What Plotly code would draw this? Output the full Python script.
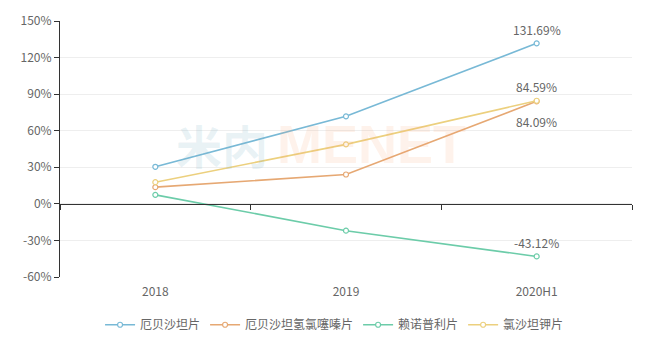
import plotly.graph_objects as go

categories = ["2018", "2019", "2020H1"]
series_names = ["厄贝沙坦片", "厄贝沙坦氢氯噻嗪片", "赖诺普利片", "氯沙坦钾片"]
s_blue = [30.4, 71.8, 131.69]
s_orange = [13.7, 24.1, 84.09]
s_green = [7.4, -22.0, -43.12]
s_yellow = [17.8, 48.8, 84.59]
y_ticks = [-60, -30, 0, 30, 60, 90, 120, 150]
y_tick_text = [f"{v}%" for v in y_ticks]

colors = ["#78b9d6", "#e6a873", "#6ccca9", "#ecd07e"]
all_series = [s_blue, s_orange, s_green, s_yellow]
label_shift = [14, -20, 14, 14]

fig = go.Figure()
for name, vals, col in zip(series_names, all_series, colors):
    fig.add_trace(go.Scatter(
        x=categories, y=vals, name=name, mode="lines+markers",
        line=dict(color=col, width=1.6),
        marker=dict(symbol="circle", size=5, color="white",
                    line=dict(color=col, width=1.2)),
        hoverinfo="skip",
    ))

# dummy trace on overlay axis used for zero-line ticks
fig.add_trace(go.Scatter(x=categories, y=[None, None, None], xaxis="x2",
                         showlegend=False, hoverinfo="skip", mode="lines"))

for vals, sh in zip(all_series, label_shift):
    fig.add_annotation(x=categories[-1], y=vals[-1], text=f"{vals[-1]:.2f}%",
                       showarrow=False, yshift=sh,
                       font=dict(size=12, color="#666666"))

# watermark
fig.add_annotation(xref="paper", yref="paper", x=0.283, xanchor="center", y=0.52,
                   text="<b>米内</b>", showarrow=False,
                   font=dict(size=46, color="rgba(120,175,195,0.16)"))
fig.add_annotation(xref="paper", yref="paper", x=0.545, xanchor="center", y=0.52,
                   text="<b>MENET</b>", showarrow=False,
                   font=dict(size=54, family="Arial", color="rgba(245,165,110,0.14)"))

zero_pos = (0 - y_ticks[0]) / (y_ticks[-1] - y_ticks[0])

fig.update_layout(
    width=652, height=353,
    margin=dict(l=60, r=20, t=21, b=76, autoexpand=False),
    paper_bgcolor="white", plot_bgcolor="white",
    font=dict(family="Noto Sans CJK SC, sans-serif", size=12, color="#666666"),
    xaxis=dict(type="category", range=[-0.5, 2.5], showline=False, ticks="",
               showgrid=False, zeroline=False, ticklabelstandoff=6,
               tickfont=dict(size=12, color="#666666")),
    xaxis2=dict(overlaying="x", anchor="free", position=zero_pos, range=[-0.5, 2.5],
                tickmode="array", tickvals=[-0.5, 0.5, 1.5, 2.5], showticklabels=False,
                ticks="outside", ticklen=5, tickcolor="#333333", showline=True,
                linecolor="#333333", linewidth=1, showgrid=False, zeroline=False),
    yaxis=dict(range=[-60, 150], tickmode="array", tickvals=y_ticks, ticktext=y_tick_text,
               showline=True, linecolor="#333333", linewidth=1,
               ticks="outside", ticklen=5, tickcolor="#333333",
               gridcolor="#eeeeee", gridwidth=1, zeroline=False,
               tickfont=dict(size=12, color="#666666")),
    legend=dict(orientation="h", x=0.48, xanchor="center", yref="container",
                y=0.08, yanchor="middle",
                font=dict(size=12, color="#666666"), itemwidth=30),
    showlegend=True,
)

fig.write_html("out.html")
